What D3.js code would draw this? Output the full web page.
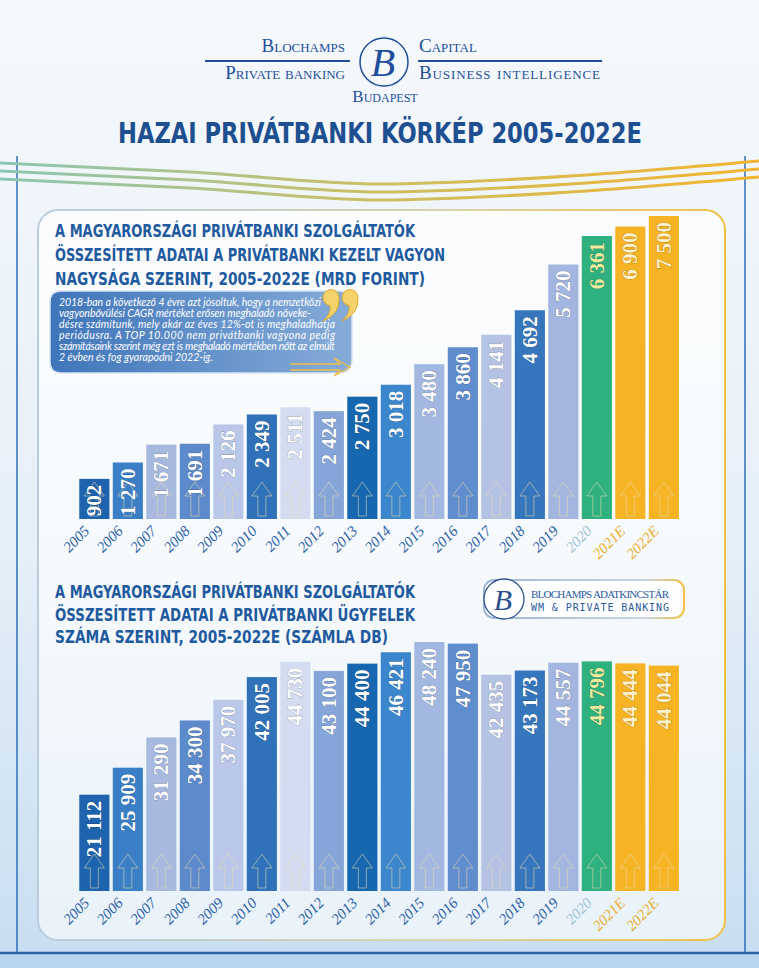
<!DOCTYPE html>
<html>
<head>
<meta charset="utf-8">
<script src="https://cdn.jsdelivr.net/npm/d3@7"></script>
<style>
  html, body { margin: 0; padding: 0; background: #eef4fa; }
  svg { display: block; }
</style>
</head>
<body>
<div id="chart"></div>
<script>
// Years shared by both charts
var years = ["2005", "2006", "2007", "2008", "2009", "2010", "2011", "2012", "2013",
             "2014", "2015", "2016", "2017", "2018", "2019", "2020", "2021E", "2022E"];

// Managed assets, bn HUF
var assets = [902, 1270, 1671, 1691, 2126, 2349, 2511, 2424, 2750,
              3018, 3480, 3860, 4141, 4692, 5720, 6361, 6900, 7500];

// Number of private banking clients (accounts)
var clients = [21112, 25909, 31290, 34300, 37970, 42005, 44730, 43100, 44400,
               46421, 48240, 47950, 42435, 43173, 44557, 44796, 44444, 44044];

var title = "HAZAI PRIVÁTBANKI KÖRKÉP 2005-2022E";
var subtitle1 = ["A MAGYARORSZÁGI PRIVÁTBANKI SZOLGÁLTATÓK",
                 "ÖSSZESÍTETT ADATAI A PRIVÁTBANKI KEZELT VAGYON",
                 "NAGYSÁGA SZERINT, 2005-2022E (MRD FORINT)"];
var subtitle2 = ["A MAGYARORSZÁGI PRIVÁTBANKI SZOLGÁLTATÓK",
                 "ÖSSZESÍTETT ADATAI A PRIVÁTBANKI ÜGYFELEK",
                 "SZÁMA SZERINT, 2005-2022E (SZÁMLA DB)"];
var note = ["2018-ban a következő 4 évre azt jósoltuk, hogy a nemzetközi",
            "vagyonbővülési CAGR mértéket erősen meghaladó növeke-",
            "désre számítunk, mely akár az éves 12%-ot is meghaladhatja",
            "periódusra. A TOP 10.000 nem privátbanki vagyona pedig",
            "számításaink szerint még ezt is meghaladó mértékben nőtt az elmúlt",
            "2 évben és fog gyarapodni 2022-ig."];

// bar palette, one per year
var palette = ["#1e63ad", "#3a7fc6", "#a7b9df", "#5d8acb", "#b9c8e8", "#2f72ba",
               "#d3dcf0", "#86a5d8", "#1766b0", "#3b86cc", "#a3b8e0", "#5f8dcd",
               "#b4c3e4", "#3676bd", "#a2b6df", "#2fb07f", "#f6b324", "#f6b324"];
var yearColor = function(y) {
  if (y == "2020") return "#9dc0d3";
  if (y.indexOf("E") > 0) return "#e8ae2c";
  return "#2a5da6";
};

var W = 759, H = 968;
var blue = "#1d4f91";

var svg = d3.select("#chart").append("svg")
    .attr("width", W)
    .attr("height", H);

var defs = svg.append("defs");

// background gradient
var bg = defs.append("linearGradient").attr("id", "bg")
    .attr("x1", 0).attr("y1", 0).attr("x2", 0).attr("y2", 1);
bg.append("stop").attr("offset", "0%").attr("stop-color", "#f6f9fc");
bg.append("stop").attr("offset", "55%").attr("stop-color", "#e6f0f8");
bg.append("stop").attr("offset", "100%").attr("stop-color", "#c7def1");

var wave = defs.append("linearGradient").attr("id", "wave")
    .attr("x1", 0).attr("y1", 0).attr("x2", 1).attr("y2", 0);
wave.append("stop").attr("offset", "0%").attr("stop-color", "#8cc6b4");
wave.append("stop").attr("offset", "50%").attr("stop-color", "#cdbf62");
wave.append("stop").attr("offset", "100%").attr("stop-color", "#f3b431");

var border = defs.append("linearGradient").attr("id", "border")
    .attr("x1", 0).attr("y1", 0).attr("x2", 1).attr("y2", 0);
border.append("stop").attr("offset", "0%").attr("stop-color", "#b9cde0");
border.append("stop").attr("offset", "60%").attr("stop-color", "#d9d4a8");
border.append("stop").attr("offset", "100%").attr("stop-color", "#f1c043");

var panelFill = defs.append("linearGradient").attr("id", "panelFill")
    .attr("x1", 0).attr("y1", 0).attr("x2", 0).attr("y2", 1);
panelFill.append("stop").attr("offset", "0%").attr("stop-color", "#ffffff").attr("stop-opacity", 0.75);
panelFill.append("stop").attr("offset", "100%").attr("stop-color", "#ffffff").attr("stop-opacity", 0.6);

var bubble = defs.append("linearGradient").attr("id", "bubble")
    .attr("x1", 0).attr("y1", 0).attr("x2", 1).attr("y2", 0);
bubble.append("stop").attr("offset", "0%").attr("stop-color", "#3f75b9");
bubble.append("stop").attr("offset", "100%").attr("stop-color", "#86acd9");

var badge = defs.append("linearGradient").attr("id", "badge")
    .attr("x1", 0).attr("y1", 0).attr("x2", 1).attr("y2", 0);
badge.append("stop").attr("offset", "0%").attr("stop-color", "#9fb6d4");
badge.append("stop").attr("offset", "80%").attr("stop-color", "#c8d6e4");
badge.append("stop").attr("offset", "100%").attr("stop-color", "#f1c043");

svg.append("rect").attr("width", W).attr("height", H).attr("fill", "url(#bg)");
svg.append("rect").attr("y", 953).attr("width", W).attr("height", 15).attr("fill", "#b9d6ee");

// outer frame lines
svg.append("line").attr("x1", 17).attr("x2", 17).attr("y1", 156).attr("y2", 953)
    .attr("stroke", "#2d6fb7").attr("stroke-width", 1.5);
svg.append("line").attr("x1", 745).attr("x2", 745).attr("y1", 156).attr("y2", 953)
    .attr("stroke", "#2d6fb7").attr("stroke-width", 1.5);
svg.append("line").attr("x1", 0).attr("x2", W).attr("y1", 953).attr("y2", 953)
    .attr("stroke", "#2a64a8").attr("stroke-width", 2.5);

// ---- header ----
var head = svg.append("g")
    .attr("font-family", "'Liberation Serif', serif")
    .attr("fill", "#1f4f9c")
    .style("font-variant", "small-caps");
head.append("text").attr("x", 345).attr("y", 52).attr("text-anchor", "end")
    .attr("font-size", 19).text("Blochamps");
head.append("text").attr("x", 345).attr("y", 79).attr("text-anchor", "end")
    .attr("font-size", 19).text("Private banking");
head.append("text").attr("x", 419).attr("y", 52)
    .attr("font-size", 19).text("Capital");
head.append("text").attr("x", 419).attr("y", 79)
    .attr("font-size", 19).attr("textLength", 181).text("Business intelligence");
head.append("text").attr("x", 385).attr("y", 102).attr("text-anchor", "middle")
    .attr("font-size", 17).text("Budapest");
head.append("line").attr("x1", 205).attr("x2", 350).attr("y1", 61).attr("y2", 61)
    .attr("stroke", "#1f4f9c").attr("stroke-width", 2);
head.append("line").attr("x1", 418).attr("x2", 602).attr("y1", 61).attr("y2", 61)
    .attr("stroke", "#1f4f9c").attr("stroke-width", 2);
head.append("circle").attr("cx", 384).attr("cy", 62).attr("r", 24)
    .attr("fill", "none").attr("stroke", "#1f4f9c").attr("stroke-width", 1.5);
head.append("text").attr("x", 383).attr("y", 76).attr("text-anchor", "middle")
    .attr("font-style", "italic").attr("font-size", 40).style("font-variant", "normal")
    .text("B");

// main title
svg.append("text")
    .attr("x", 118).attr("y", 143)
    .attr("font-family", "'DejaVu Sans Condensed', 'DejaVu Sans', sans-serif")
    .attr("font-weight", "bold")
    .attr("font-size", 29)
    .attr("textLength", 524)
    .attr("lengthAdjust", "spacingAndGlyphs")
    .attr("fill", blue)
    .text(title);

// three waves
var waveLine = d3.line().curve(d3.curveMonotoneX);
[0, 8, 16].forEach(function(o) {
  svg.append("path")
      .attr("d", waveLine([[0, 163 + o], [190, 172 + o], [380, 184 + o], [570, 176 + o], [759, 161 + o]]))
      .attr("fill", "none")
      .attr("stroke", "url(#wave)")
      .attr("stroke-width", 3.2);
});

// white panel
svg.append("rect")
    .attr("x", 38).attr("y", 210).attr("width", 687).attr("height", 730).attr("rx", 20)
    .attr("fill", "url(#panelFill)")
    .attr("stroke", "url(#border)")
    .attr("stroke-width", 2);

// ---- scales ----
var x = d3.scaleBand()
    .domain(years)
    .range([77.6, 680.6])
    .paddingInner(0.1)
    .paddingOuter(0.05);

// forecast bars are drawn compressed in the original
var y1 = d3.scaleLinear().domain([0, 6361, 7500]).range([519, 236, 216]);
var y2 = d3.scaleLinear().domain([4000, 48240]).range([891, 642]);

var fmt = d3.formatLocale({decimal: ",", thousands: " ", grouping: [3], currency: ["", ""]}).format(",d");

function subtitle(lines, y0, step, lengths) {
  var t = svg.append("g")
      .attr("font-family", "'DejaVu Sans Condensed', 'DejaVu Sans', sans-serif")
      .attr("font-weight", "bold")
      .attr("font-size", 17)
      .attr("fill", "#1f5a9f");
  lines.forEach(function(s, i) {
    t.append("text")
        .attr("x", 55).attr("y", y0 + i * step)
        .attr("textLength", lengths[i])
        .attr("lengthAdjust", "spacingAndGlyphs")
        .text(s);
  });
}

function arrowPath() {
  return "M0,-36 L10,-22 L4,-22 L4,-2 L-4,-2 L-4,-22 L-10,-22 Z";
}

function drawBars(values, y, base) {
  var g = svg.append("g");

  g.selectAll("rect.bar")
      .data(values)
    .enter().append("rect")
      .attr("class", "bar")
      .attr("x", function(d, i) { return x(years[i]); })
      .attr("width", x.bandwidth())
      .attr("y", function(d) { return y(d); })
      .attr("height", function(d) { return base - y(d); })
      .attr("fill", function(d, i) { return palette[i]; });

  // outlined arrows inside bars
  g.selectAll("path.arrow")
      .data(values)
    .enter().append("path")
      .attr("class", "arrow")
      .attr("transform", function(d, i) {
        return "translate(" + (x(years[i]) + x.bandwidth() / 2) + "," + (base - 1) + ")";
      })
      .attr("d", arrowPath())
      .attr("fill", "none")
      .attr("stroke", "#eadcae")
      .attr("stroke-opacity", 0.55)
      .attr("stroke-width", 1);

  // value labels, rotated
  g.selectAll("text.val")
      .data(values)
    .enter().append("text")
      .attr("class", "val")
      .attr("transform", function(d, i) {
        return "translate(" + (x(years[i]) + x.bandwidth() / 2) + "," + (y(d) + 6) + ") rotate(-90)";
      })
      .attr("text-anchor", "end")
      .attr("dy", "0.34em")
      .attr("font-family", "'Liberation Serif', serif")
      .attr("font-weight", "bold")
      .attr("font-size", 21)
      .attr("fill", function(d, i) {
        if (years[i] == "2020") return "#f2ea9c";
        if (years[i].indexOf("E") > 0) return "#fdf0cc";
        return "#ffffff";
      })
      .attr("stroke", function(d, i) { return d3.color(palette[i]).darker(0.9); })
      .attr("stroke-width", 0.7)
      .attr("paint-order", "stroke")
      .text(function(d) { return fmt(d); });

  // rotated year labels
  g.selectAll("text.year")
      .data(years)
    .enter().append("text")
      .attr("class", "year")
      .attr("transform", function(d) {
        return "translate(" + (x(d) + x.bandwidth() / 2 - 4) + "," + (base + 13) + ") rotate(-45)";
      })
      .attr("text-anchor", "end")
      .attr("font-family", "'Liberation Serif', serif")
      .attr("font-style", "italic")
      .attr("font-size", 15)
      .attr("fill", yearColor)
      .text(function(d) { return d; });
}

// ---- chart 1 ----
subtitle(subtitle1, 237, 24, [360, 390, 370]);

// callout bubble
var cb = svg.append("g");
cb.append("path")
    .attr("d", "M61,291 L338,291 Q352,291 352,305 L352,359 Q352,373 338,373 L61,373 Q50,373 50,362 L50,302 Q50,291 61,291 Z")
    .attr("fill", "url(#bubble)")
    .attr("stroke", "#d7e4f3")
    .attr("stroke-width", 1.5);
var nt = cb.append("g")
    .attr("font-family", "Lato, 'Open Sans', sans-serif")
    .attr("font-style", "italic")
    .attr("font-size", 10.5)
    .attr("fill", "#ffffff");
var noteLen = [262, 252, 276, 276, 276, null];
note.forEach(function(s, i) {
  var t = nt.append("text").attr("x", 59).attr("y", 306 + i * 11).text(s);
  if (noteLen[i]) t.attr("textLength", noteLen[i]).attr("lengthAdjust", "spacing");
});

// closing quote mark drawn as two shapes
[331, 350].forEach(function(cx) {
  cb.append("path")
      .attr("d", "M" + (cx + 8) + ",298 A8,8 0 1,0 " + (cx - 1) + ",305.5 Q" + (cx + 1) + ",313 " + (cx - 8) + ",321 Q" + (cx + 9) + ",314 " + (cx + 8) + ",298 Z")
      .attr("fill", "#f5d36c")
      .attr("stroke", "#e3ab2a")
      .attr("stroke-width", 1);
});
cb.append("path")
    .attr("d", "M290,364 L340,364 L334,358 L350,367 L334,376 L340,370 L290,370")
    .attr("fill", "none")
    .attr("stroke", "#ecc04a")
    .attr("stroke-width", 1.3);

drawBars(assets, y1, 519);

// ---- chart 2 ----
subtitle(subtitle2, 598, 22.5, [360, 360, 333]);

// badge
var bd = svg.append("g");
bd.append("rect")
    .attr("x", 484).attr("y", 580).attr("width", 200).attr("height", 38).attr("rx", 10)
    .attr("fill", "#ffffff").attr("fill-opacity", 0.85)
    .attr("stroke", "url(#badge)").attr("stroke-width", 2);
bd.append("circle").attr("cx", 504).attr("cy", 599).attr("r", 20)
    .attr("fill", "#ffffff").attr("stroke", "#2b4f8e").attr("stroke-width", 1.3);
bd.append("text").attr("x", 503).attr("y", 610).attr("text-anchor", "middle")
    .attr("font-family", "'Liberation Serif', serif").attr("font-style", "italic")
    .attr("font-size", 30).attr("fill", "#2b4f8e").text("B");
bd.append("text").attr("x", 531).attr("y", 598)
    .attr("font-family", "'Liberation Serif', serif").attr("font-size", 11)
    .attr("textLength", 138).attr("fill", "#2b5a9c").text("BLOCHAMPS ADATKINCSTÁR");
bd.append("text").attr("x", 531).attr("y", 611)
    .attr("font-family", "'DejaVu Sans Mono', monospace").attr("font-size", 10)
    .attr("textLength", 138).attr("fill", "#2b5a9c").text("WM & PRIVATE BANKING");

drawBars(clients, y2, 891);
</script>
</body>
</html>
